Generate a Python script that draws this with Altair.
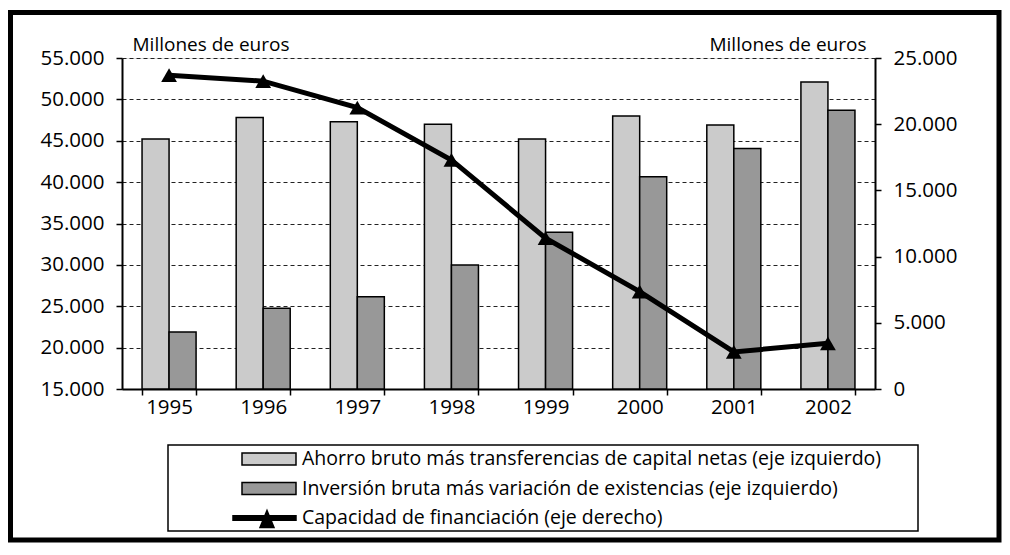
import altair as alt
import pandas as pd

years = ["1995", "1996", "1997", "1998", "1999", "2000", "2001", "2002"]
ahorro = [45200, 47800, 47300, 47000, 45200, 48000, 46900, 52100]
inversion = [21900, 24750, 26150, 30000, 33950, 40650, 44050, 48700]
capacidad = [23700, 23250, 21250, 17300, 11400, 7350, 2800, 3450]

S1 = "Ahorro bruto más transferencias de capital netas (eje izquierdo)"
S2 = "Inversión bruta más variación de existencias (eje izquierdo)"
S3 = "Capacidad de financiación (eje derecho)"
series = [S1, S2, S3]
colors = ["#cbcbcb", "#989898", "#000000"]

left_ticks = [15000, 20000, 25000, 30000, 35000, 40000, 45000, 50000, 55000]
right_ticks = [0, 5000, 10000, 15000, 20000, 25000]
axis_title = "Millones de euros"

bar_df = pd.DataFrame(
    [{"year": y, "serie": S1, "value": v} for y, v in zip(years, ahorro)]
    + [{"year": y, "serie": S2, "value": v} for y, v in zip(years, inversion)]
)
line_df = pd.DataFrame({"year": years, "value": capacidad, "serie": S3})
outline_df = pd.DataFrame({"serie_outline": series})

FONT = "Open Sans"
FS = 19
LFS = 20.5
fmt = "replace(format(datum.value, ','), ',', '.')"

rect_path = "M-2.7,-0.6H2.7V0.6H-2.7Z"
line_path = "M-3.6,-0.22H2.7V0.22H-3.6Z M-0.2,-0.75L0.5,0.95H-0.9Z"
shapes = [rect_path, rect_path, line_path]

legend = alt.Legend(
    title=None, orient="none", legendX=136, legendY=390, direction="vertical",
    labelFont=FONT, labelFontSize=19.5, labelLimit=900, labelColor="black", labelOpacity=1,
    labelOffset=22, symbolSize=400, rowPadding=8.5, padding=0, symbolOpacity=1,
    symbolStrokeColor="black", symbolStrokeWidth=1.5,
)

color = alt.Color("serie:N", scale=alt.Scale(domain=series, range=colors), legend=legend)

x_enc = alt.X(
    "year:N", sort=years,
    scale=alt.Scale(paddingInner=0.426, paddingOuter=0.213),
    axis=alt.Axis(title=None, labelAngle=0, tickBand="extent", labelFont=FONT, labelFontSize=LFS,
                  labelColor="black", labelPadding=2, tickSize=6, tickWidth=1.5, tickColor="black",
                  domainColor="black", domainWidth=2, grid=False),
)

bars = alt.Chart(bar_df).mark_bar(stroke="black", strokeWidth=1.5).encode(
    x=x_enc,
    xOffset=alt.XOffset("serie:N", sort=[S1, S2], scale=alt.Scale(paddingInner=0, paddingOuter=0)),
    y=alt.Y("value:Q", scale=alt.Scale(domain=[15000, 55000], zero=False, nice=False),
            axis=alt.Axis(values=left_ticks, labelExpr=fmt, title=axis_title, titleAngle=0,
                          titleX=10, titleY=-14, titleAlign="left", titleBaseline="middle",
                          titleFont=FONT, titleFontSize=FS, titleFontWeight="normal", titleColor="black",
                          labelFont=FONT, labelFontSize=LFS, labelColor="black", labelPadding=12,
                          tickSize=6, tickWidth=1.5, tickColor="black", domainColor="black", domainWidth=2,
                          grid=True, gridDash=[4, 3], gridColor="#222222", gridWidth=1)),
    y2=alt.datum(15000),
    color=color,
)

line = alt.Chart(line_df).mark_line(
    strokeWidth=5, color="black",
    point=alt.OverlayMarkDef(shape="triangle-up", size=250, filled=True, fill="black", strokeWidth=0),
).encode(
    x=alt.X("year:N", sort=years),
    y=alt.Y("value:Q", scale=alt.Scale(domain=[0, 25000], nice=False),
            axis=alt.Axis(orient="right", values=right_ticks, labelExpr=fmt, title=axis_title, titleAngle=0,
                          titleX=-9, titleY=-14, titleAlign="right", titleBaseline="middle",
                          titleFont=FONT, titleFontSize=FS, titleFontWeight="normal", titleColor="black",
                          labelFont=FONT, labelFontSize=LFS, labelColor="black", labelPadding=12,
                          tickSize=6, tickWidth=1.5, tickColor="black", domainColor="black", domainWidth=2,
                          grid=False)),
    detail="serie:N",
)

# invisible layer whose shape legend (merged with the colour legend) gives the swatch shapes and outlines
outlines = alt.Chart(outline_df).mark_point(filled=False, color="black", strokeWidth=1.5, opacity=0).encode(
    x=alt.value(0), y=alt.value(0),
    shape=alt.Shape("serie_outline:N", scale=alt.Scale(domain=series, range=shapes), legend=legend),
)

one = alt.Data(values=[{"a": 1}])
legend_box = alt.Chart(one).mark_rect(fill="white", fillOpacity=0, stroke="black", strokeWidth=1.5).encode(
    x=alt.value(46), x2=alt.value(796), y=alt.value(387), y2=alt.value(473)
)
frame = alt.Chart(one).mark_rect(fill="white", fillOpacity=0, stroke="black", strokeWidth=5).encode(
    x=alt.value(-111.5), x2=alt.value(877), y=alt.value(-45.5), y2=alt.value(482)
)

chart = alt.layer(bars, line, outlines, legend_box, frame).resolve_scale(y="independent").properties(
    width=753, height=331,
    padding={"left": 114, "top": 50, "right": 127, "bottom": 154},
    autosize=alt.AutoSizeParams(type="none"),
).configure_view(stroke=None).configure(background="white")

chart.save("out.html", embed_options={"renderer": "svg", "actions": False})
